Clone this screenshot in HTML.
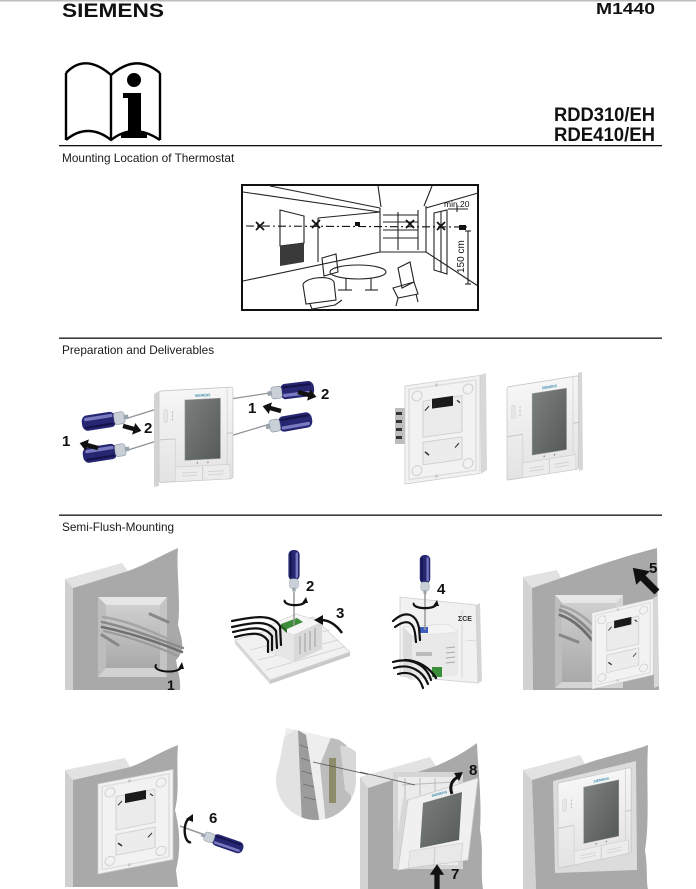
<!DOCTYPE html>
<html><head><meta charset="utf-8"><style>
html,body{margin:0;padding:0;background:#fff;}
svg{display:block;}
</style></head><body>
<svg width="696" height="889" viewBox="0 0 696 889" xmlns="http://www.w3.org/2000/svg" font-family="'Liberation Sans', sans-serif">
<defs>
<linearGradient id="faceG" x1="0" y1="0" x2="0" y2="1"><stop offset="0" stop-color="#f6f6f6"/><stop offset="1" stop-color="#e3e3e3"/></linearGradient>
<linearGradient id="scrG" x1="0" y1="0" x2="1" y2="1"><stop offset="0" stop-color="#7b807f"/><stop offset="1" stop-color="#555a59"/></linearGradient>
<linearGradient id="holeG" x1="0" y1="0" x2="0" y2="1"><stop offset="0" stop-color="#cfcfcf"/><stop offset="1" stop-color="#a9a9a9"/></linearGradient>
<clipPath id="circClip"><circle cx="316" cy="780" r="40"/><polygon points="278,770 286,728 310,733 340,740 356,752 356,775"/></clipPath>
<g id="sd">
<rect x="0" y="-7" width="38" height="14" rx="6" fill="#262673"/>
<rect x="3" y="-5" width="32" height="3" rx="1.5" fill="#7a7ac0"/>
<rect x="3" y="3" width="32" height="2" rx="1" fill="#14144a"/>
<rect x="36" y="-5.5" width="12" height="11" rx="3" fill="#c9d0d8" stroke="#8a95a0" stroke-width=".6"/>
<rect x="47" y="-2" width="5" height="4" fill="#9aa4ae"/>
</g>
<polygon id="ar" points="0,-2.2 11,-2.2 11,-6 19,0 11,6 11,2.2 0,2.2" fill="#111"/>
<g id="thermo">
<rect x="0" y="0" width="77" height="88" rx="2" fill="url(#faceG)" stroke="#c6c6c6" stroke-width=".8"/>
<line x1="71" y1="1" x2="71" y2="87" stroke="#d0d0d0" stroke-width=".8"/>
<line x1="71" y1="44" x2="77" y2="44" stroke="#c8c8c8"/>
<line x1="0" y1="47" x2="17" y2="47" stroke="#c8c8c8"/>
<line x1="17" y1="47" x2="17" y2="74" stroke="#d6d6d6"/>
<rect x="5" y="18" width="4" height="13" rx="2" fill="#e6e6e6" stroke="#cfcfcf" stroke-width=".5"/>
<line x1="14" y1="20" x2="14" y2="30" stroke="#aaa" stroke-width=".8" stroke-dasharray="2,1.5"/>
<rect x="27" y="10" width="37" height="58" fill="url(#scrG)" stroke="#9a9a9a" stroke-width=".5"/>
<text x="45.5" y="7.5" font-size="3.6" fill="#3d8fb0" text-anchor="middle" font-weight="bold">SIEMENS</text>
<circle cx="40" cy="71" r=".8" fill="#888"/><circle cx="51" cy="71" r=".8" fill="#888"/>
<rect x="17" y="74" width="57" height="14" fill="#ececec" stroke="#cdcdcd" stroke-width=".6"/>
<line x1="45.5" y1="74" x2="45.5" y2="88" stroke="#cdcdcd"/>
<line x1="24" y1="80" x2="40" y2="80" stroke="#d5d5d5"/><line x1="24" y1="83" x2="40" y2="83" stroke="#d5d5d5"/>
<line x1="51" y1="80" x2="67" y2="80" stroke="#d5d5d5"/><line x1="51" y1="83" x2="67" y2="83" stroke="#d5d5d5"/>
</g>
<g id="plate">
<rect width="75" height="100" fill="#f2f2f2" stroke="#cdcdcd" stroke-width=".8"/>
<rect x="4" y="4" width="67" height="92" fill="none" stroke="#dedede" stroke-width="1.5"/>
<rect x="18" y="18" width="39" height="37" fill="#ebebeb" stroke="#d0d0d0"/>
<rect x="27" y="17" width="21" height="10" fill="#1a1a1a"/>
<rect x="18" y="60" width="39" height="23" fill="#ececec" stroke="#d0d0d0"/>
<circle cx="12" cy="12" r="5" fill="none" stroke="#cfcfcf"/><circle cx="63" cy="12" r="5" fill="none" stroke="#cfcfcf"/>
<circle cx="12" cy="88" r="5" fill="none" stroke="#cfcfcf"/><circle cx="63" cy="88" r="5" fill="none" stroke="#cfcfcf"/>
<line x1="20" y1="28" x2="24" y2="24" stroke="#333" stroke-width="1.2"/><line x1="52" y1="22" x2="55" y2="25" stroke="#333" stroke-width="1.2"/>
<line x1="20" y1="70" x2="24" y2="74" stroke="#333" stroke-width="1.5"/><line x1="50" y1="70" x2="54" y2="66" stroke="#333" stroke-width="1.2"/>
<rect x="30" y="2" width="3" height="3" fill="#ccc"/><rect x="30" y="95" width="3" height="3" fill="#ccc"/>
</g>
</defs>

<!-- header -->
<rect x="0" y="0" width="696" height="1.5" fill="#bdbdbd"/>
<text x="62" y="17" font-size="19" font-weight="bold" fill="#111" textLength="102" lengthAdjust="spacingAndGlyphs">SIEMENS</text>
<text x="596" y="14" font-size="16" font-weight="bold" fill="#111" textLength="59" lengthAdjust="spacingAndGlyphs">M1440</text>

<!-- book icon -->
<g fill="none" stroke="#000" stroke-width="2.4" stroke-linejoin="round">
<path d="M66,73 C80,58 96,62 111,75 C126,62 142,58 160,73"/>
<path d="M66,140 C80,128 96,128 111,140 C126,128 142,128 160,140"/>
<line x1="66" y1="73" x2="66" y2="140"/>
<line x1="111" y1="75" x2="111" y2="140"/>
<line x1="160" y1="73" x2="160" y2="140"/>
</g>
<circle cx="134" cy="80" r="7" fill="#000"/>
<path d="M123,93 L141,93 L141,133 L147,133 L147,138 L121,138 L121,133 L128,133 L128,98 L123,98 Z" fill="#000"/>

<text x="655" y="121" font-size="19" font-weight="bold" fill="#111" text-anchor="end" textLength="101" lengthAdjust="spacingAndGlyphs">RDD310/EH</text>
<text x="655" y="141" font-size="19" font-weight="bold" fill="#111" text-anchor="end" textLength="101" lengthAdjust="spacingAndGlyphs">RDE410/EH</text>

<rect x="59" y="145" width="603" height="1.3" fill="#111"/>
<text x="62" y="162" font-size="11.8" fill="#1a1a1a">Mounting Location of Thermostat</text>

<!-- room drawing -->
<rect x="242" y="185" width="236" height="125" fill="#fff" stroke="#111" stroke-width="2"/>
<g stroke="#222" stroke-width="1.1" fill="none">
<line x1="243" y1="192" x2="380" y2="212"/>
<line x1="270" y1="186" x2="380" y2="208"/>
<line x1="378" y1="186" x2="381" y2="207"/>
<line x1="432" y1="186" x2="424" y2="206"/>
<line x1="478" y1="193" x2="426" y2="208"/>
<line x1="243" y1="281" x2="380" y2="252"/>
<line x1="426" y1="252" x2="478" y2="286"/>
<line x1="380" y1="208" x2="380" y2="252"/>
<line x1="426" y1="206" x2="426" y2="252"/>
<line x1="380" y1="252" x2="426" y2="252"/>
<line x1="383" y1="215" x2="418" y2="215"/>
<line x1="383" y1="222" x2="418" y2="222"/>
<line x1="383" y1="230" x2="418" y2="230"/>
<line x1="383" y1="238" x2="418" y2="238"/>
<line x1="418" y1="210" x2="418" y2="250"/>
<line x1="398" y1="212" x2="398" y2="250"/>
<polygon points="280,210 304,216 304,243 280,246"/>
<line x1="318" y1="218" x2="318" y2="262"/>
<line x1="318" y1="218" x2="380" y2="212"/>
<polygon points="434,213 447,210 447,274 434,270"/>
<line x1="441" y1="211" x2="441" y2="272"/>
<line x1="468" y1="231" x2="468" y2="284"/>
<line x1="465" y1="231" x2="471" y2="231"/>
<line x1="465" y1="284" x2="471" y2="284"/>
<line x1="448" y1="209" x2="468" y2="209"/>
<line x1="457" y1="205" x2="457" y2="212"/>
<ellipse cx="358" cy="272" rx="28" ry="7"/>
<line x1="346" y1="278" x2="346" y2="290"/><line x1="371" y1="278" x2="371" y2="290"/>
<line x1="338" y1="290" x2="352" y2="290"/><line x1="365" y1="290" x2="378" y2="290"/>
<path d="M322,258 L336,254 L338,272 L324,276 Z"/>
<path d="M303,285 C303,278 330,274 334,282 L336,300 L306,304 Z"/>
<path d="M310,304 L312,309 L335,305 L342,300"/>
<path d="M398,268 L410,262 L414,282 L402,288 Z"/>
<path d="M393,288 L414,282 L418,294 L398,298 Z"/>
<line x1="398" y1="298" x2="396" y2="306"/><line x1="416" y1="294" x2="418" y2="302"/>
</g>
<polygon points="280,246 304,243 304,262 280,266" fill="#3a3a3a"/>
<line x1="246" y1="226" x2="470" y2="227" stroke="#111" stroke-width="1.1" stroke-dasharray="8,3,2,3"/>
<g stroke="#111" stroke-width="1.8">
<line x1="256" y1="222" x2="264" y2="230"/><line x1="264" y1="222" x2="256" y2="230"/>
<line x1="312" y1="220" x2="320" y2="228"/><line x1="320" y1="220" x2="312" y2="228"/>
<line x1="406" y1="220" x2="414" y2="228"/><line x1="414" y1="220" x2="406" y2="228"/>
<line x1="437" y1="222" x2="445" y2="230"/><line x1="445" y1="222" x2="437" y2="230"/>
</g>
<rect x="355" y="222" width="5" height="4" fill="#111"/>
<rect x="459" y="225" width="7" height="5" fill="#111"/>
<text x="444" y="207" font-size="8.5" fill="#111">min.20</text>
<text x="0" y="0" font-size="10" fill="#111" transform="translate(464,273) rotate(-90)">150 cm</text>

<!-- section 2 -->
<rect x="59" y="337.5" width="603" height="1.3" fill="#111"/>
<text x="62" y="354" font-size="11.8" fill="#1a1a1a">Preparation and Deliverables</text>

<!-- shafts -->
<g stroke="#8d949a" stroke-width="1.3">
<line x1="128" y1="418" x2="160" y2="408"/>
<line x1="128" y1="450" x2="160" y2="440"/>
<line x1="270" y1="393" x2="230" y2="399"/>
<line x1="270" y1="424" x2="230" y2="436"/>
</g>
<polygon points="154,394 159,391 159,486 154,487" fill="#d3d3d3"/>
<use href="#thermo" transform="translate(159,391) skewY(-3) scale(0.96,1.04)"/>
<use href="#sd" transform="translate(82,424) rotate(-9) scale(0.9,1.1)"/>
<use href="#sd" transform="translate(83,456) rotate(-9) scale(0.9,1.1)"/>
<use href="#sd" transform="translate(314,388) rotate(173) scale(0.9,1.1)"/>
<use href="#sd" transform="translate(312,419) rotate(170) scale(0.9,1.1)"/>
<use href="#ar" transform="translate(123,426) rotate(15)"/>
<use href="#ar" transform="translate(98,448) rotate(195)"/>
<use href="#ar" transform="translate(298,392) rotate(15)"/>
<use href="#ar" transform="translate(281,411) rotate(195)"/>
<g font-size="15" font-weight="bold" fill="#111">
<text x="144" y="433">2</text>
<text x="62" y="446">1</text>
<text x="321" y="399">2</text>
<text x="248" y="413">1</text>
</g>

<!-- back plate -->
<rect x="395" y="408" width="11" height="36" fill="#bdbdbd"/>
<g fill="#333"><rect x="396" y="412" width="6" height="3"/><rect x="396" y="420" width="6" height="3"/><rect x="396" y="428" width="6" height="3"/><rect x="396" y="436" width="6" height="3"/></g>
<polygon points="480,375 486,373 487,470 481,474" fill="#d8d8d8"/>
<use href="#plate" transform="translate(405,386) skewY(-8) scale(1,0.98)"/>
<!-- front thermostat -->
<polygon points="578,373 582,372 583,470 579,471" fill="#d6d6d6"/>
<use href="#thermo" transform="translate(507,387) skewY(-9) scale(0.93,1.06)"/>

<!-- section 3 -->
<rect x="59" y="514.5" width="603" height="1.3" fill="#111"/>
<text x="62" y="531" font-size="11.8" fill="#1a1a1a">Semi-Flush-Mounting</text>

<!-- image 1 -->
<polygon points="65,579 122,563 128,571 73,588" fill="#e2e2e2"/>
<polygon points="65,579 73,588 73,690 65,690" fill="#d0d0d0"/>
<path d="M73,588 L128,571 C145,565 160,556 178,548 C176,570 181,600 178,625 C182,640 186,650 176,660 C178,672 181,680 180,690 L73,690 Z" fill="#a9a9a9"/>
<rect x="98" y="597" width="69" height="80" fill="#d5d5d5"/>
<polygon points="106,605 160,605 160,668 106,668" fill="url(#holeG)"/>
<polygon points="98,597 167,597 160,605 106,605" fill="#e6e6e6"/>
<polygon points="98,597 106,605 106,668 98,677" fill="#bdbdbd"/>
<polygon points="98,677 106,668 160,668 167,677" fill="#d2d2d2"/>
<polygon points="167,597 160,605 160,668 167,677" fill="#c4c4c4"/>
<g fill="none" stroke-linecap="round">
<path d="M103,617 C135,622 160,636 180,644" stroke="#a5a5a5" stroke-width="2.5"/>
<path d="M102,622 C130,628 160,640 183,648" stroke="#8a8a8a" stroke-width="2.5"/>
<path d="M102,627 C130,633 160,643 182,652" stroke="#6f6f6f" stroke-width="2.5"/>
<path d="M104,631 C130,637 158,647 178,656" stroke="#9a9a9a" stroke-width="2"/>
<line x1="150" y1="614" x2="168" y2="622" stroke="#888" stroke-width="3"/>
<line x1="102" y1="635" x2="118" y2="645" stroke="#888" stroke-width="3"/>
<path d="M156,665 A13,5 0 1,0 181,668" stroke="#111" stroke-width="2"/>
</g>
<polygon points="178,669 184,669 182,662" fill="#111"/>
<text x="167" y="690" font-size="14" font-weight="bold" fill="#111">1</text>

<!-- image 2 -->
<polygon points="235,640 270,680 270,684 235,644" fill="#d8d8d8"/>
<polygon points="270,680 350,652 350,656 270,684" fill="#c9c9c9"/>
<polygon points="235,640 313,617 350,652 270,680" fill="#f1f1f1" stroke="#d2d2d2" stroke-width=".8"/>
<g stroke="#cfcfcf" stroke-width=".8"><line x1="250" y1="650" x2="330" y2="630"/><line x1="258" y1="660" x2="338" y2="640"/><line x1="266" y1="670" x2="344" y2="647"/></g>
<polygon points="268,626 296,614 322,622 294,635" fill="#f6f6f6" stroke="#cccccc" stroke-width=".6"/>
<polygon points="268,626 294,635 294,662 268,652" fill="#e6e6e6"/>
<polygon points="294,635 322,622 322,649 294,662" fill="#d9d9d9"/>
<g stroke="#a8a8a8" stroke-width="1.2"><line x1="300" y1="636" x2="300" y2="654"/><line x1="305" y1="633" x2="305" y2="652"/><line x1="310" y1="631" x2="310" y2="650"/><line x1="315" y1="628" x2="315" y2="647"/></g>
<polygon points="281,624 297,618 303,622 287,629" fill="#3b8f3b"/>
<polygon points="281,624 287,629 287,633 281,628" fill="#2a6a2a"/>
<g fill="none" stroke="#111" stroke-width="2.2" stroke-linecap="round">
<path d="M232,621 C252,617 272,613 280,626 L281,645"/>
<path d="M232,627 C250,623 268,619 276,631 L277,648"/>
<path d="M233,632 C250,628 264,625 272,636 L272,650"/>
<path d="M235,637 C250,633 262,631 268,641 L268,652"/>
</g>
<line x1="294" y1="592" x2="294" y2="626" stroke="#999" stroke-width="1.5"/>
<use href="#sd" transform="translate(294,550) rotate(90) scale(0.8)"/>
<path d="M285,600 A10,4 0 1,0 305,602" fill="none" stroke="#111" stroke-width="2.2"/>
<polygon points="302,603 308,603 306,597" fill="#111"/>
<path d="M342,633 C337,626 330,620 321,620" fill="none" stroke="#111" stroke-width="2.5"/>
<polygon points="323,615 314,620 323,625" fill="#111"/>
<text x="306" y="591" font-size="15" font-weight="bold" fill="#111">2</text>
<text x="336" y="618" font-size="15" font-weight="bold" fill="#111">3</text>

<!-- image 3 -->
<polygon points="476,605 480,603 482,681 478,683" fill="#d5d5d5"/>
<polygon points="400,597 476,605 478,683 400,676" fill="#f1f1f1" stroke="#cfcfcf" stroke-width=".8"/>
<g stroke="#d2d2d2" stroke-width=".8"><line x1="462" y1="610" x2="462" y2="678"/><line x1="466" y1="640" x2="476" y2="641"/></g>
<text x="458" y="621" font-size="7" font-weight="bold" fill="#333">ΣCE</text>
<polygon points="403,627 448,624 458,632 412,636" fill="#f4f4f4" stroke="#d0d0d0" stroke-width=".5"/>
<polygon points="403,627 412,636 412,680 403,676" fill="#dcdcdc"/>
<polygon points="412,636 458,632 458,675 412,680" fill="#e9e9e9"/>
<g stroke="#aaa" stroke-width="1"><line x1="446" y1="648" x2="455" y2="647"/><line x1="446" y1="653" x2="455" y2="652"/><line x1="446" y1="658" x2="455" y2="657"/><line x1="446" y1="663" x2="455" y2="662"/></g>
<rect x="416" y="652" width="16" height="4" fill="#bbb"/>
<rect x="432" y="667" width="10" height="10" fill="#3b8f3b"/>
<rect x="420" y="627" width="8" height="6" fill="#3a5fc0"/>
<g fill="none" stroke="#111" stroke-width="2.2" stroke-linecap="round">
<path d="M393,621 C405,610 416,613 419,628 L420,640"/>
<path d="M395,627 C406,619 413,621 415,633 L416,642"/>
<path d="M393,662 C410,657 426,664 431,680"/>
<path d="M394,668 C410,663 423,671 428,684"/>
<path d="M398,674 C412,670 420,678 423,688"/>
<path d="M405,660 C418,660 430,668 436,678"/>
</g>
<line x1="425" y1="594" x2="425" y2="630" stroke="#999" stroke-width="1.5"/>
<use href="#sd" transform="translate(425,555) rotate(90) scale(0.75)"/>
<path d="M414,603 A11,4 0 1,0 436,605" fill="none" stroke="#111" stroke-width="2.2"/>
<polygon points="433,606 439,606 437,600" fill="#111"/>
<text x="437" y="594" font-size="15" font-weight="bold" fill="#111">4</text>

<!-- image 4 -->
<polygon points="523,577 557,570 561,578 532,588" fill="#e2e2e2"/>
<polygon points="523,577 532,588 533,690 523,690" fill="#d2d2d2"/>
<path d="M532,588 L561,578 C590,568 625,556 657,548 L659,690 L533,690 Z" fill="#a9a9a9"/>
<rect x="555" y="595" width="68" height="93" fill="#d5d5d5"/>
<polygon points="562,603 616,603 616,682 562,682" fill="url(#holeG)"/>
<polygon points="555,595 623,595 616,603 562,603" fill="#e6e6e6"/>
<polygon points="555,595 562,603 562,682 555,688" fill="#bdbdbd"/>
<g fill="none" stroke-linecap="round">
<path d="M560,610 C575,615 588,628 598,640" stroke="#8a8a8a" stroke-width="3"/>
<path d="M560,615 C575,620 586,632 596,645" stroke="#6f6f6f" stroke-width="3"/>
<path d="M561,606 C578,610 590,622 600,632" stroke="#a5a5a5" stroke-width="2.5"/>
<line x1="560" y1="635" x2="578" y2="642" stroke="#888" stroke-width="3"/>
</g>
<polygon points="653,598 658,596 659,686 654,688" fill="#d7d7d7"/>
<use href="#plate" transform="translate(592,613) skewY(-13) scale(0.82,0.76)"/>
<use href="#ar" transform="translate(657,592) rotate(-135) scale(1.8,1.6)"/>
<text x="649" y="573" font-size="15" font-weight="bold" fill="#111">5</text>

<!-- image 6 -->
<polygon points="65,770 125,758 130,767 73,780" fill="#e2e2e2"/>
<polygon points="65,770 73,780 73,887 65,887" fill="#d0d0d0"/>
<path d="M73,780 L130,767 C145,762 160,752 178,745 C176,770 180,790 175,810 C180,830 181,850 176,870 L178,887 L73,887 Z" fill="#a9a9a9"/>
<use href="#plate" transform="translate(98,784) skewY(-11) scale(1,0.9)"/>
<line x1="180" y1="826" x2="205" y2="835" stroke="#999" stroke-width="1.5"/>
<use href="#sd" transform="translate(243,849) rotate(199) scale(0.85)"/>
<path d="M189,819 A5,11 0 1,0 191,842" fill="none" stroke="#111" stroke-width="2.4"/>
<polygon points="186,819 193,814 193,822" fill="#111"/>
<text x="209" y="823" font-size="15" font-weight="bold" fill="#111">6</text>

<!-- circle detail -->
<g clip-path="url(#circClip)">
<rect x="270" y="725" width="90" height="100" fill="#eeeeee"/>
<polygon points="272,745 298,728 302,825 272,810" fill="#e2e2e2"/>
<polygon points="298,730 306,735 320,825 302,825" fill="#9c9c9c"/>
<g stroke="#777" stroke-width="1"><line x1="300" y1="745" x2="308" y2="748"/><line x1="301" y1="758" x2="310" y2="761"/><line x1="302" y1="771" x2="312" y2="774"/><line x1="303" y1="784" x2="314" y2="787"/><line x1="304" y1="797" x2="316" y2="800"/></g>
<polygon points="320,765 332,735 346,745 352,805 326,825" fill="#bdbdbd"/>
<rect x="329" y="758" width="7" height="45" fill="#8d8d6a"/>
<polygon points="340,745 356,750 356,800 345,790" fill="#d8d8d8"/>
</g>
<line x1="313" y1="762" x2="415" y2="785" stroke="#555" stroke-width=".8"/>

<!-- image 7/8 -->
<polygon points="360,777 430,757 436,766 368,788" fill="#e2e2e2"/>
<polygon points="360,777 368,788 368,889 360,889" fill="#d2d2d2"/>
<path d="M368,788 L436,766 C450,760 465,752 477,743 C478,770 482,800 480,830 C484,850 480,870 483,889 L368,889 Z" fill="#a9a9a9"/>
<rect x="393" y="772" width="70" height="97" fill="#d5d5d5"/>
<rect x="398" y="777" width="60" height="88" fill="#ebebeb"/>
<g stroke="#bbb" stroke-width="1"><line x1="402" y1="785" x2="455" y2="782"/><line x1="405" y1="778" x2="405" y2="860"/><line x1="420" y1="778" x2="420" y2="795"/><line x1="435" y1="778" x2="435" y2="792"/></g>
<circle cx="402" cy="835" r="2.5" fill="#fff"/>
<line x1="360" y1="772" x2="415" y2="785" stroke="#555" stroke-width=".8"/>
<polygon points="398,870 408,800 403,798 393,868" fill="#d8d8d8"/>
<polygon points="408,800 478,778 468,860 398,870" fill="#f0f0f0" stroke="#c9c9c9" stroke-width=".8"/>
<polygon points="423,803 462,792 459,840 420,848" fill="url(#scrG)"/>
<polygon points="410,851 463,843 461,861 408,868" fill="#e8e8e8" stroke="#cdcdcd" stroke-width=".6"/>
<line x1="435" y1="847" x2="434" y2="865" stroke="#cdcdcd"/>
<text x="432" y="797" font-size="3.5" font-weight="bold" fill="#3d8fb0" transform="rotate(-15 432 797)">SIEMENS</text>
<path d="M452,794 C449,786 452,780 458,777" fill="none" stroke="#111" stroke-width="3"/>
<polygon points="454,773 463,772 459,781" fill="#111"/>
<text x="469" y="775" font-size="15" font-weight="bold" fill="#111">8</text>
<use href="#ar" transform="translate(437,889) rotate(-90) scale(1.3,1.2)"/>
<text x="451" y="879" font-size="15" font-weight="bold" fill="#111">7</text>

<!-- final image -->
<polygon points="523,770 580,755 585,764 532,780" fill="#e2e2e2"/>
<polygon points="523,770 532,780 536,889 523,889" fill="#d2d2d2"/>
<path d="M532,780 L585,764 C600,758 630,752 648,745 C646,780 650,820 645,850 C648,870 646,880 648,889 L536,889 Z" fill="#a9a9a9"/>
<polygon points="553,781 636,761 637,870 555,873" fill="#dcdcdc"/>
<use href="#thermo" transform="translate(558,783) skewY(-12) scale(0.95,0.97)"/>
</svg>
</body></html>
